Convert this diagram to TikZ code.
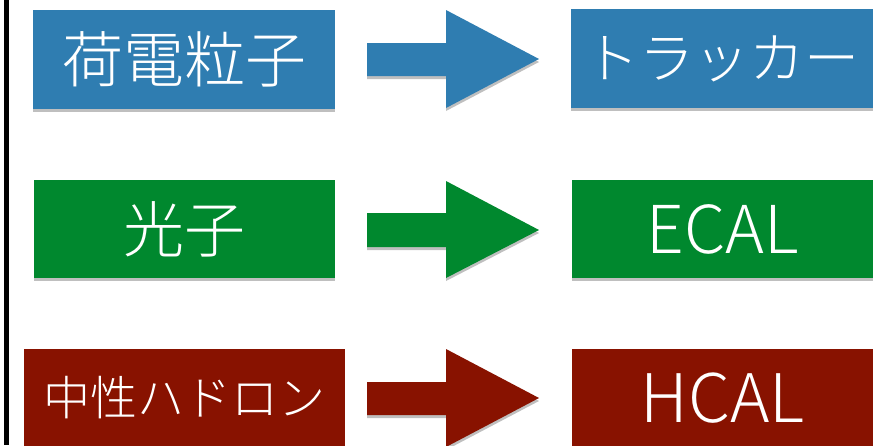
\documentclass[tikz,border=0pt]{standalone}
\usepackage{fontspec}
\newfontfamily\jp{Noto Sans CJK JP Light}
\usetikzlibrary{shadows}
\definecolor{cblue}{HTML}{2F7DB1}
\definecolor{cgreen}{HTML}{00882E}
\definecolor{cred}{HTML}{881200}
\tikzset{
  box/.style={rectangle, inner sep=0pt, minimum height=98pt, text=white,
    drop shadow={shadow xshift=0pt, shadow yshift=-3pt, opacity=0.25, fill=black}},
  blockarrow/.style={drop shadow={shadow xshift=0pt, shadow yshift=-3pt, opacity=0.25, fill=black}},
}
\begin{document}
\begin{tikzpicture}[x=1pt,y=-1pt]
\useasboundingbox (0,0) rectangle (878,445);
\fill[white] (0,0) rectangle (878,445);
\fill[black] (4,0) rectangle (9,445);
% row 1
\node[box, fill=cblue, minimum width=302pt, minimum height=99pt, font=\jp\fontsize{61}{61}\selectfont] (charged) at (184,59.5) {荷電粒子};
\node[box, fill=cblue, minimum width=302pt, minimum height=99pt, font=\jp\fontsize{55}{55}\selectfont] (tracker) at (722,58.5) {トラッカー};
\fill[cblue, blockarrow] (367,43) -- (446,43) -- (446,10) -- (539,59) -- (446,108) -- (446,76) -- (367,76) -- cycle;
% row 2
\node[box, fill=cgreen, minimum width=301pt, font=\jp\fontsize{61}{61}\selectfont] (photon) at (184.5,229) {光子};
\node[box, fill=cgreen, minimum width=301pt, font=\jp\fontsize{66}{66}\selectfont] (ecal) at (722.5,229) {ECAL};
\fill[cgreen, blockarrow] (367,213) -- (446,213) -- (446,181) -- (539,230) -- (446,278) -- (446,247) -- (367,247) -- cycle;
% row 3
\node[box, fill=cred, minimum width=321pt, font=\jp\fontsize{47}{47}\selectfont] (hadron) at (184.5,398) {中性ハドロン};
\node[box, fill=cred, minimum width=301pt, font=\jp\fontsize{67}{67}\selectfont] (hcal) at (722.5,398) {HCAL};
\fill[cred, blockarrow] (367,382) -- (446,382) -- (446,349) -- (539,398) -- (446,447) -- (446,415) -- (367,415) -- cycle;
\end{tikzpicture}
\end{document}
